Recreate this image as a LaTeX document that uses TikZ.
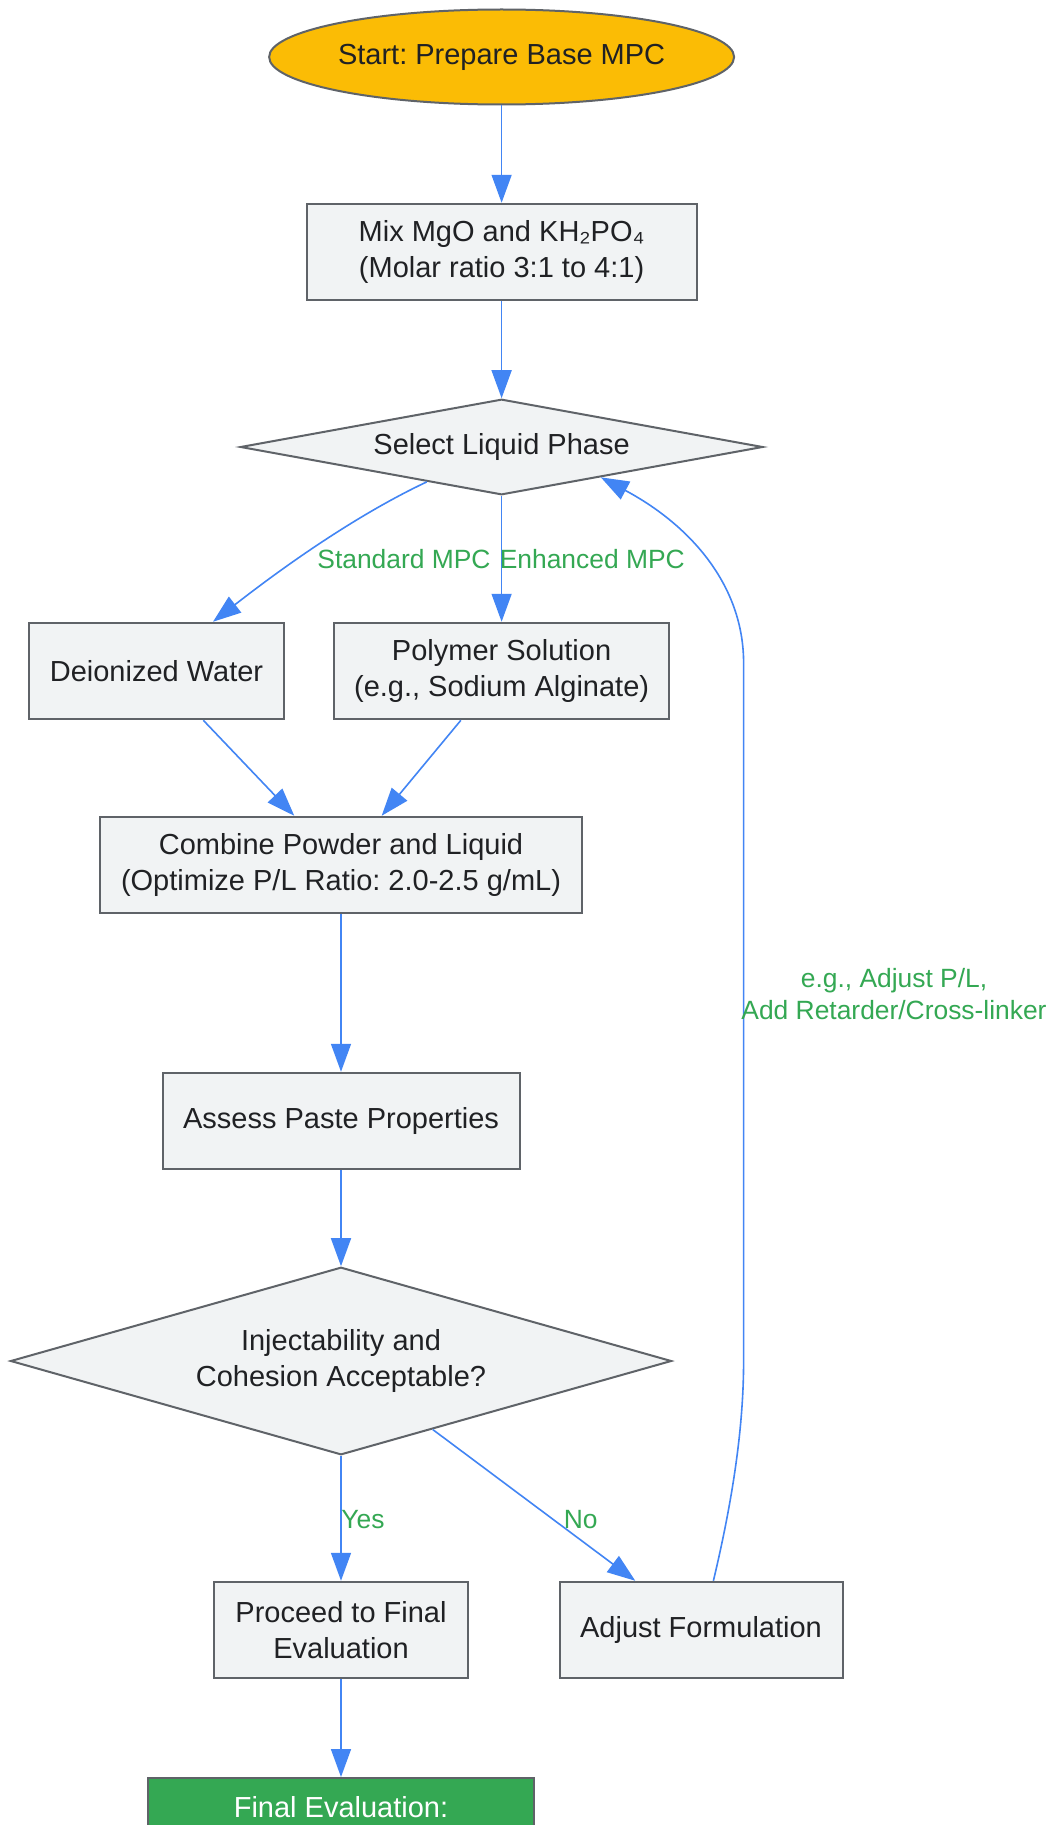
\documentclass[tikz,border=0pt]{standalone}
\usepackage{fontspec}
\setmainfont{Liberation Sans}
\frenchspacing
\usetikzlibrary{shapes.geometric,arrows.meta,calc}
\definecolor{edgeblue}{HTML}{4285F4}
\definecolor{bordergray}{HTML}{5F6368}
\definecolor{boxfill}{HTML}{F1F3F4}
\definecolor{txt}{HTML}{202124}
\definecolor{lblgreen}{HTML}{34A853}
\definecolor{startfill}{HTML}{FBBC05}
\definecolor{finalfill}{HTML}{34A853}
\begin{document}
\begin{tikzpicture}[x=1pt,y=-1pt,
  nodetext/.style={text=txt, font=\fontsize{29}{36}\selectfont\frenchspacing, align=center},
  box/.style={nodetext, draw=bordergray, fill=boxfill, line width=2pt, inner sep=0pt, minimum height=96.5pt, rectangle},
  decision/.style={nodetext, draw=bordergray, fill=boxfill, line width=2pt, inner sep=0pt, diamond},
  edge/.style={draw=edgeblue, line width=1.6pt, -{Triangle[length=28pt,width=20pt]}},
  lbl/.style={text=lblgreen, font=\fontsize{26.4}{32}\selectfont, align=center, inner sep=0pt}
]
\useasboundingbox (0,0) rectangle (1052,1825);
\clip (0,0) rectangle (1052,1825);
\fill[white] (0,0) rectangle (1052,1825);

\node[nodetext, ellipse, draw=bordergray, fill=startfill, line width=2pt, inner sep=0pt, minimum width=465pt, minimum height=95pt] (start) at (501.6,57) {Start: Prepare Base MPC};
\node[box, minimum width=390pt] (mix) at (501.6,252) {Mix MgO and KH₂PO₄\\(Molar ratio 3:1 to 4:1)};
\node[decision, shape aspect=5.465, minimum width=522.5pt, minimum height=95.6pt] (sel) at (501.6,447) {Select Liquid Phase};
\node[box, minimum width=255pt] (dei) at (156.5,671) {Deionized Water};
\node[box, minimum width=335pt] (poly) at (501.6,671) {Polymer Solution\\(e.g., Sodium Alginate)};
\node[box, minimum width=482pt] (comb) at (341,865) {Combine Powder and Liquid\\(Optimize P/L Ratio: 2.0-2.5 g/mL)};
\node[box, minimum width=357pt] (assess) at (341,1121) {Assess Paste Properties};
\node[decision, shape aspect=3.523, minimum width=661pt, minimum height=187.6pt] (inj) at (341,1361) {Injectability and\\Cohesion Acceptable?};
\node[box, minimum width=254pt] (proc) at (341,1630) {Proceed to Final\\Evaluation};
\node[box, minimum width=283pt] (adj) at (701,1630) {Adjust Formulation};
\node[box, anchor=north, fill=finalfill, text=white, minimum width=386pt, minimum height=0pt, text height=39pt, text depth=60pt] (final) at (341,1777) {Final Evaluation:};

\draw[edge] (start) -- (mix);
\draw[edge] (mix) -- (sel);
\coordinate (deitop) at ($(dei.north)+(56.5,0)$);
\draw[edge] (sel.205.7) .. controls +(-85,40) and +(45,-35) .. (deitop);
\draw[edge] (sel) -- (poly);
\draw[edge] (dei) -- (comb);
\draw[edge] (poly) -- (comb);
\draw[edge] (comb) -- (assess);
\draw[edge] (assess) -- (inj);
\draw[edge] (inj) -- (proc);
\draw[edge] (inj) -- (adj);
\draw[edge] (proc) -- (final);
\coordinate (adjtop) at ($(adj.north)+(12.4,0)$);
\coordinate (loopA) at (743.6,1361);
\coordinate (loopB) at (743.6,663);
\draw[edge] (adjtop) .. controls (735,1490) and (743.6,1420) .. (loopA) -- (loopB) .. controls (743.6,585) and (690,525) .. (sel.-17.6);

\node[lbl] (lstd) at (404,558.6) {Standard MPC};
\node[lbl] (lenh) at (592.3,558.6) {Enhanced MPC};
\node[lbl] (ladj) at (894,994) {e.g., Adjust P/L,\\Add Retarder/Cross-linker};
\node[lbl] (lyes) at (363,1520) {Yes};
\node[lbl] (lno) at (580.7,1520) {No};
\end{tikzpicture}
\end{document}
